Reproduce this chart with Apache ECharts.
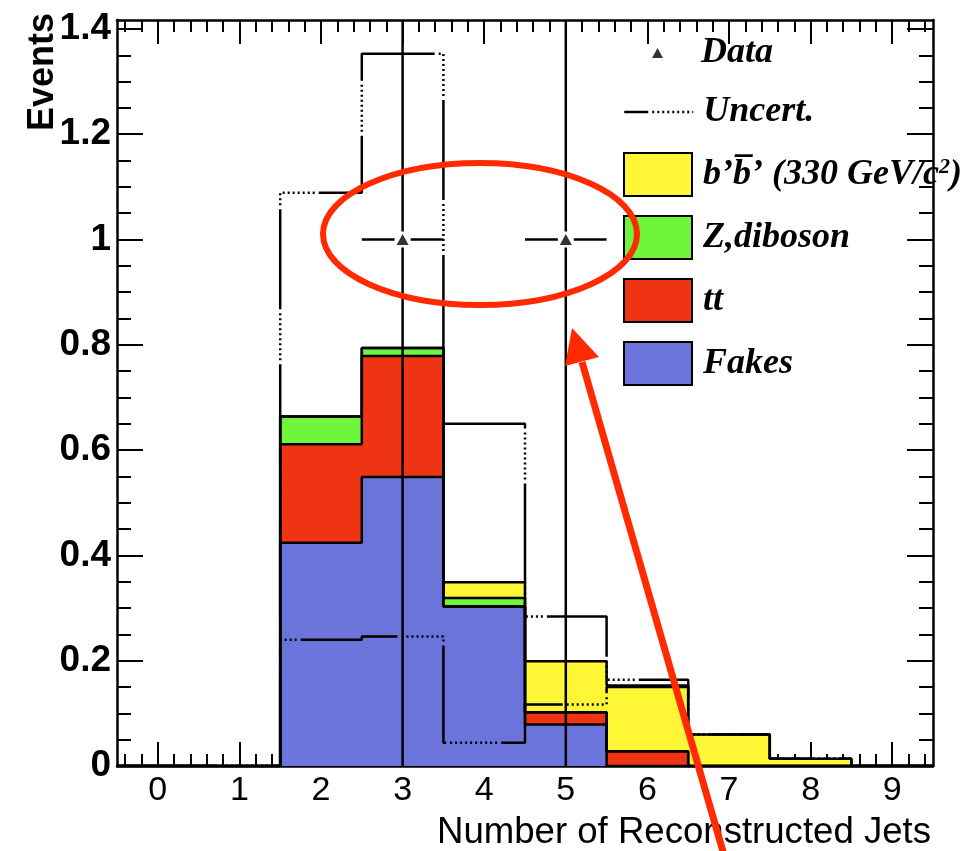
<!DOCTYPE html>
<html><head><meta charset="utf-8">
<script src="https://cdn.jsdelivr.net/npm/echarts@6/dist/echarts.min.js"></script>
<style>html,body{margin:0;padding:0;background:#fff}#c{width:972px;height:851px}</style>
</head><body><div id="c"></div>
<script>
// ---- data ----
const binCenters  = [0, 1, 2, 3, 4, 5, 6, 7, 8, 9];
const fakes       = [0, 0, 0.424, 0.549, 0.303, 0.079, 0, 0, 0, 0];
const ttbar       = [0, 0, 0.187, 0.230, 0, 0.023, 0.028, 0, 0, 0];
const zdiboson    = [0, 0, 0.053, 0.015, 0.016, 0, 0, 0, 0, 0];
const bprime      = [0, 0, 0, 0, 0.030, 0.097, 0.125, 0.060, 0.014, 0];
const uncertUp    = [0, 0, 1.089, 1.353, 0.650, 0.284, 0.164, 0.060, 0.014, 0];
const uncertLow   = [0, 0, 0.240, 0.246, 0.044, 0.117, 0.150, 0.060, 0.014, 0];
const dataX       = [3, 5];
const dataY       = [1, 1];
const dataErrLow  = [1, 1];
const dataErrHigh = [2.3, 2.3];
const xTickLabels = [0, 1, 2, 3, 4, 5, 6, 7, 8, 9];
const yTickLabels = [0, 0.2, 0.4, 0.6, 0.8, 1, 1.2, 1.4];
const seriesNames = ['Fakes', 'tt', 'Z,diboson', "b'b' (330 GeV/c2)"];

// ---- helpers ----
const X_MIN = -0.5, X_MAX = 9.5, Y_MIN = 0, Y_MAX = 1.417;
function toStep(vals) {
  const pts = vals.map((v, i) => [binCenters[i] - 0.5, v]);
  pts.push([binCenters[binCenters.length - 1] + 0.5, vals[vals.length - 1]]);
  return pts;
}
function addArr(a, b) { return a.map((v, i) => v + b[i]); }
const cumFakes = fakes.slice();
const cumTT = addArr(cumFakes, ttbar);
const cumZ = addArr(cumTT, zdiboson);
const cumB = addArr(cumZ, bprime);

const xMinor = [], yMinor = [];
for (let k = -2; k <= 47; k++) xMinor.push(Math.round(k * 2) / 10);
for (let k = 0; k <= 28; k++) yMinor.push(Math.round(k * 5) / 100);

const colors = { b: '#fff736', z: '#6ff53b', tt: '#ee3412', fakes: '#6b74da' };
const black = '#000';
const SANS = 'Liberation Sans', SERIF = 'Liberation Serif';
function dots(n) { const a = []; for (let i = 0; i < n; i++) a.push(2, 3); return a; }
const bandDash = [100, 4].concat(dots(9), [2, 4]);
const legendDash = [24, 4].concat(dots(10));
const LW = 2.5;

function xAx(grid, pos, len, ticks, label) {
  return {
    gridIndex: grid, type: 'value', position: pos, min: X_MIN, max: X_MAX,
    axisLine: { show: grid === 0, onZero: false, lineStyle: { color: black, width: LW } },
    axisTick: { show: true, inside: true, length: len, customValues: ticks, lineStyle: { color: black, width: 2 } },
    axisLabel: label ? { show: true, customValues: xTickLabels, margin: 8, fontFamily: SANS, fontSize: 34, color: black } : { show: false },
    splitLine: { show: false }
  };
}
function yAx(grid, pos, len, ticks, label) {
  return {
    gridIndex: grid, type: 'value', position: pos, min: Y_MIN, max: Y_MAX,
    axisLine: { show: grid === 0, onZero: false, lineStyle: { color: black, width: LW } },
    axisTick: { show: true, inside: true, length: len, customValues: ticks, lineStyle: { color: black, width: 2 } },
    axisLabel: label ? { show: true, customValues: yTickLabels, margin: 6, fontFamily: SANS, fontSize: 37, fontWeight: 'bold', color: black } : { show: false },
    splitLine: { show: false }
  };
}
function stackSeries(name, cum, color) {
  return {
    name: name, type: 'line', step: 'end', data: toStep(cum), symbol: 'none',
    xAxisIndex: 0, yAxisIndex: 0, z: 2, silent: true,
    lineStyle: { color: black, width: LW },
    itemStyle: { color: color },
    areaStyle: { color: color, opacity: 1 }
  };
}
function bandSeries(vals) {
  return {
    name: 'Uncert.', type: 'line', step: 'end', data: toStep(vals), symbol: 'none',
    xAxisIndex: 0, yAxisIndex: 0, z: 4, silent: true,
    itemStyle: { color: black },
    lineStyle: { color: black, width: LW, type: bandDash }
  };
}
const legendFont = { fontFamily: SERIF, fontWeight: 'bold', fontStyle: 'italic', fontSize: 36, color: black };

const chart = echarts.init(document.getElementById('c'), null, { renderer: 'canvas' });
chart.setOption({
  animation: false,
  backgroundColor: '#fff',
  grid: [
    { left: 117, right: 39, top: 20, bottom: 85 },
    { left: 117, right: 39, top: 20, bottom: 85 }
  ],
  xAxis: [
    xAx(0, 'bottom', 24, xTickLabels, true),
    xAx(0, 'top', 24, xTickLabels, false),
    xAx(1, 'bottom', 12, xMinor, false),
    xAx(1, 'top', 12, xMinor, false)
  ],
  yAxis: [
    yAx(0, 'left', 26, yTickLabels, true),
    yAx(0, 'right', 26, yTickLabels, false),
    yAx(1, 'left', 14, yMinor, false),
    yAx(1, 'right', 14, yMinor, false)
  ],
  legend: [
    {
      data: [{ name: 'Data', icon: 'triangle', itemStyle: { color: black } }],
      left: 652, top: 35, padding: 0, itemWidth: 11, itemHeight: 10, selectedMode: false,
      textStyle: Object.assign({ padding: [0, 0, 0, 33] }, legendFont)
    },
    {
      data: [{ name: 'Uncert.', itemStyle: { color: 'rgba(0,0,0,0)', opacity: 0, borderWidth: 0 } }],
      left: 623, top: 94, padding: 0, itemWidth: 69, itemHeight: 4, selectedMode: false,
      lineStyle: { color: black, width: LW, type: legendDash },
      textStyle: Object.assign({ padding: [0, 0, 0, 5] }, legendFont)
    },
    {
      data: [
        { name: seriesNames[3], itemStyle: { color: colors.b, borderColor: black, borderWidth: 2 } },
        { name: seriesNames[2], itemStyle: { color: colors.z, borderColor: black, borderWidth: 2 } },
        { name: seriesNames[1], itemStyle: { color: colors.tt, borderColor: black, borderWidth: 2 } },
        { name: seriesNames[0], itemStyle: { color: colors.fakes, borderColor: black, borderWidth: 2 } }
      ],
      orient: 'vertical', icon: 'rect',
      left: 623, top: 152, padding: 0, itemWidth: 68, itemHeight: 43, itemGap: 18, selectedMode: false,
      formatter: function (name) {
        if (name === seriesNames[3]) return '{n|b\u2019b\u0305\u2019 (330 GeV/c}{s|2}{n|)}';
        return name;
      },
      textStyle: Object.assign({
        padding: [0, 0, 0, 6],
        rich: {
          n: { fontFamily: SERIF, fontWeight: 'bold', fontStyle: 'italic', fontSize: 36, color: black },
          s: { fontFamily: SERIF, fontWeight: 'bold', fontStyle: 'italic', fontSize: 22, color: black, verticalAlign: 'top', lineHeight: 24 }
        }
      }, legendFont)
    }
  ],
  series: [
    stackSeries(seriesNames[3], cumB, colors.b),
    stackSeries(seriesNames[2], cumZ, colors.z),
    stackSeries(seriesNames[1], cumTT, colors.tt),
    stackSeries(seriesNames[0], cumFakes, colors.fakes),
    bandSeries(uncertUp),
    bandSeries(uncertLow),
    {
      type: 'custom', xAxisIndex: 0, yAxisIndex: 0, z: 5, silent: true, clip: true,
      data: dataX.map((x, i) => [x, dataY[i], dataErrLow[i], dataErrHigh[i]]),
      encode: { x: 0, y: 1 },
      renderItem: function (params, api) {
        const x = api.value(0), y = api.value(1), lo = api.value(2), hi = api.value(3);
        const c = api.coord([x, y]);
        const t = api.coord([x, y + hi]);
        const b = api.coord([x, y - lo]);
        const l = api.coord([x - 0.5, y]);
        const r = api.coord([x + 0.5, y]);
        const g = 8;
        const st = { stroke: black, lineWidth: LW };
        return { type: 'group', children: [
          { type: 'line', shape: { x1: c[0], y1: t[1], x2: c[0], y2: c[1] - g }, style: st },
          { type: 'line', shape: { x1: c[0], y1: c[1] + g, x2: c[0], y2: b[1] }, style: st },
          { type: 'line', shape: { x1: l[0], y1: c[1], x2: c[0] - g, y2: c[1] }, style: st },
          { type: 'line', shape: { x1: c[0] + g, y1: c[1], x2: r[0], y2: c[1] }, style: st }
        ] };
      }
    },
    {
      name: 'Data', type: 'scatter', xAxisIndex: 0, yAxisIndex: 0, z: 6, silent: true,
      symbol: 'triangle', symbolSize: [12, 11], itemStyle: { color: black },
      data: dataX.map((x, i) => [x, dataY[i]])
    }
  ],
  graphic: [
    { type: 'text', x: 931, y: 833, z: 50,
      style: { text: 'Number of Reconstructed Jets', fontFamily: SANS, fontSize: 36.6, fill: black, align: 'right', verticalAlign: 'middle' } },
    { type: 'text', x: 43, y: 13, rotation: Math.PI / 2, z: 50,
      style: { text: 'Events', fontFamily: SANS, fontSize: 36, fontWeight: 'bold', fill: black, align: 'right', verticalAlign: 'middle' } },
    { type: 'ellipse', z: 100, shape: { cx: 480, cy: 234, rx: 157, ry: 71 },
      style: { fill: 'none', stroke: '#ff2a00', lineWidth: 6 } },
    { type: 'line', z: 100, shape: { x1: 582, y1: 362, x2: 726, y2: 862 },
      style: { stroke: '#ff2a00', lineWidth: 7 } },
    { type: 'polygon', z: 100, shape: { points: [[572, 328], [599, 357], [565, 366]] },
      style: { fill: '#ff2a00' } }
  ]
});
</script>
</body></html>
